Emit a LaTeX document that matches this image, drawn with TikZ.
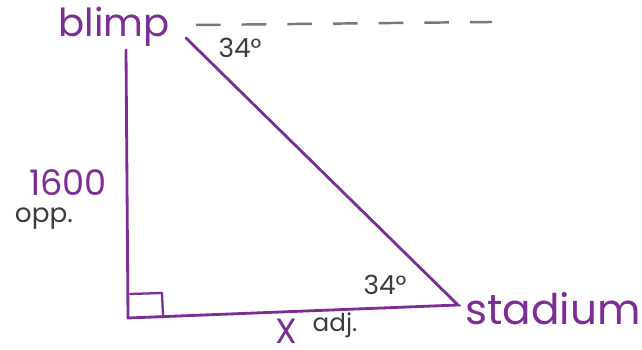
\documentclass[tikz,border=0pt]{standalone}
\usepackage{fontspec}
\setmainfont{Poppins}
\definecolor{pen}{RGB}{125,45,150}
\definecolor{pencil}{RGB}{60,60,60}
\tikzset{
  side/.style={line width=1.6pt,pen,line cap=round},
  tag/.style={font=\fontsize{22}{24}\selectfont,text=pen,inner sep=0pt},
  note/.style={font=\fontsize{15}{17}\selectfont,text=pencil,inner sep=0pt}
}
\begin{document}
\begin{tikzpicture}[x=0.02cm,y=-0.02cm]
    \useasboundingbox (0,0) rectangle (642,350);
    % corners of the triangle
    \coordinate (blimp) at (186,38);
    \coordinate (top) at (126,50);
    \coordinate (ground) at (128,318);
    \coordinate (stadium) at (458,305);
    \coordinate (horizon) at (492,22);
    
    % sides
    \draw[side] (top) -- (ground) -- (stadium) -- (blimp);
    
    % right angle mark
    \draw[side,line width=1.3pt] (130,294) -- (162,293) -- (163,315);
    
    % line of sight (horizontal)
    \draw[pencil!70,line width=1.4pt,dash pattern=on 14pt off 12pt] (196,25) -- (horizon);
    
    % labels
    \node[tag] (blimplabel) at (114,27) {blimp};
    \node[tag,anchor=west,font=\fontsize{24}{26}\selectfont] (stadiumlabel) at (465,309) {stadium};
    \node[tag,font=\fontsize{20}{22}\selectfont] (opplen) at (68,183) {1600};
    \node[note] (oppword) at (44,219) {opp.};
    \node[tag,font=\fontsize{20}{22}\selectfont] (adjlen) at (286,331) {X};
    \node[note,font=\fontsize{14}{16}\selectfont] (adjword) at (335,325) {adj.};
    
    % angles
    \node[note] (toptheta) at (240,48) {34°};
    \node[note] (bottheta) at (385,285) {34°};
\end{tikzpicture}
\end{document}
